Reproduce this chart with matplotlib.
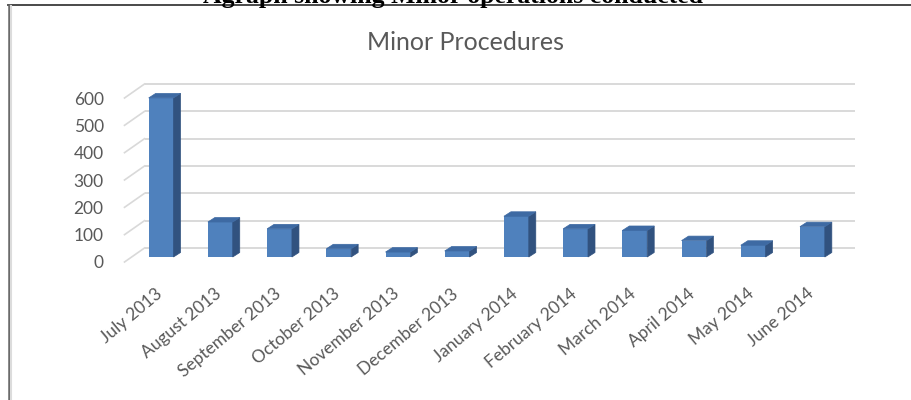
import matplotlib
matplotlib.use("Agg")
import matplotlib.pyplot as plt
from matplotlib.patches import Polygon
from matplotlib.lines import Line2D
from matplotlib.transforms import ScaledTranslation

months = ["July 2013", "August 2013", "September 2013", "October 2013",
          "November 2013", "December 2013", "January 2014", "February 2014",
          "March 2014", "April 2014", "May 2014", "June 2014"]
procedures = [582, 128, 103, 30, 18, 22, 149, 103, 97, 60, 43, 111]
y_ticks = [0, 100, 200, 300, 400, 500, 600]

FRONT = "#4F81BD"
TOP = "#3E6AA3"
SIDE = "#31527F"
GRID = "#D9D9D9"
TEXT = "#595959"

W, H, DPI = 911, 400, 100
fig = plt.figure(figsize=(W / DPI, H / DPI), dpi=DPI)
fig.patch.set_facecolor("white")

# axes box = front plane of the 3D plot area (pixel layout from the reference)
left_px, right_px, bottom_px, top_px = 124.5, 835, 262, 98
ax = fig.add_axes([left_px / W, (H - bottom_px) / H,
                   (right_px - left_px) / W, (bottom_px - top_px) / H])
ax.set_xlim(-0.5, len(months) - 0.5)
ax.set_ylim(0, 600)
for s in ax.spines.values():
    s.set_visible(False)
ax.set_facecolor("none")

# pixel -> data unit conversion for the oblique depth
x_per_px = (len(months)) / (right_px - left_px)
y_per_px = 600 / (bottom_px - top_px)


def shifted(dx, dy):
    return ax.transData + ScaledTranslation(dx / DPI, dy / DPI, fig.dpi_scale_trans)


# back wall gridlines and left wall diagonals
back = shifted(20, 14)
ax.hlines(y_ticks, -0.5, len(months) - 0.5, colors=GRID, lw=1.4,
          transform=back, clip_on=False, zorder=1)
for t in y_ticks:
    ax.plot([-0.5, -0.5 + 20 * x_per_px], [t, t + 14 * y_per_px],
            color=GRID, lw=1.2, clip_on=False, zorder=1)

# 3D bars: front face + side + top
bw = 0.42
dx, dy = 7 * x_per_px, 4.5 * y_per_px
front = shifted(7, 5)
xs = range(len(months))
bars = ax.bar(xs, procedures, width=bw, color=FRONT, zorder=3, clip_on=False)
for rect in bars:
    rect.set_transform(front)
for x, v in zip(xs, procedures):
    x0, x1 = x - bw / 2, x + bw / 2
    side = Polygon([(x1, 0), (x1 + dx, dy), (x1 + dx, v + dy), (x1, v)],
                   closed=True, facecolor=SIDE, edgecolor=SIDE, lw=0.5,
                   transform=front, clip_on=False, zorder=3)
    top = Polygon([(x0, v), (x1, v), (x1 + dx, v + dy), (x0 + dx, v + dy)],
                  closed=True, facecolor=TOP, edgecolor=TOP, lw=0.5,
                  transform=front, clip_on=False, zorder=3)
    ax.add_patch(side)
    ax.add_patch(top)

ax.set_yticks(y_ticks)
ax.set_yticklabels([str(t) for t in y_ticks], fontsize=12.5, color=TEXT,
                   family="Lato")
ax.tick_params(axis="y", length=0, pad=15)

ax.set_xticks(list(xs))
ax.set_xticklabels(months, rotation=40, ha="right", va="top",
                   rotation_mode="anchor", fontsize=12.5, color=TEXT,
                   family="Lato")
ax.tick_params(axis="x", length=0, pad=17)
for lbl in ax.get_xticklabels():
    lbl.set_transform(lbl.get_transform() +
                      ScaledTranslation(1 / DPI, 0, fig.dpi_scale_trans))

fig.text(466 / W, 1 - 50 / H, "Minor Procedures", ha="center", va="baseline",
         fontsize=18, color=TEXT, family="Lato")

# chart border (top and left edges visible)
fig.add_artist(Line2D([8 / W, 1], [1 - 5 / H, 1 - 5 / H],
                      transform=fig.transFigure, color="#3a3a3a", lw=1.3))
fig.add_artist(Line2D([8.5 / W, 8.5 / W], [0, 1 - 5 / H],
                      transform=fig.transFigure, color="#666666", lw=1.8))
fig.add_artist(Line2D([11 / W, 11 / W], [0, 1 - 6 / H],
                      transform=fig.transFigure, color="#dcdcdc", lw=1.5))

fig.text(453 / W, 1 - 3 / H, "Agraph showing Minor operations conducted",
         ha="center", va="baseline", fontsize=18.5, fontweight="bold",
         family="Liberation Serif", color="black")

fig.savefig("out.png", dpi=DPI)
plt.close(fig)
